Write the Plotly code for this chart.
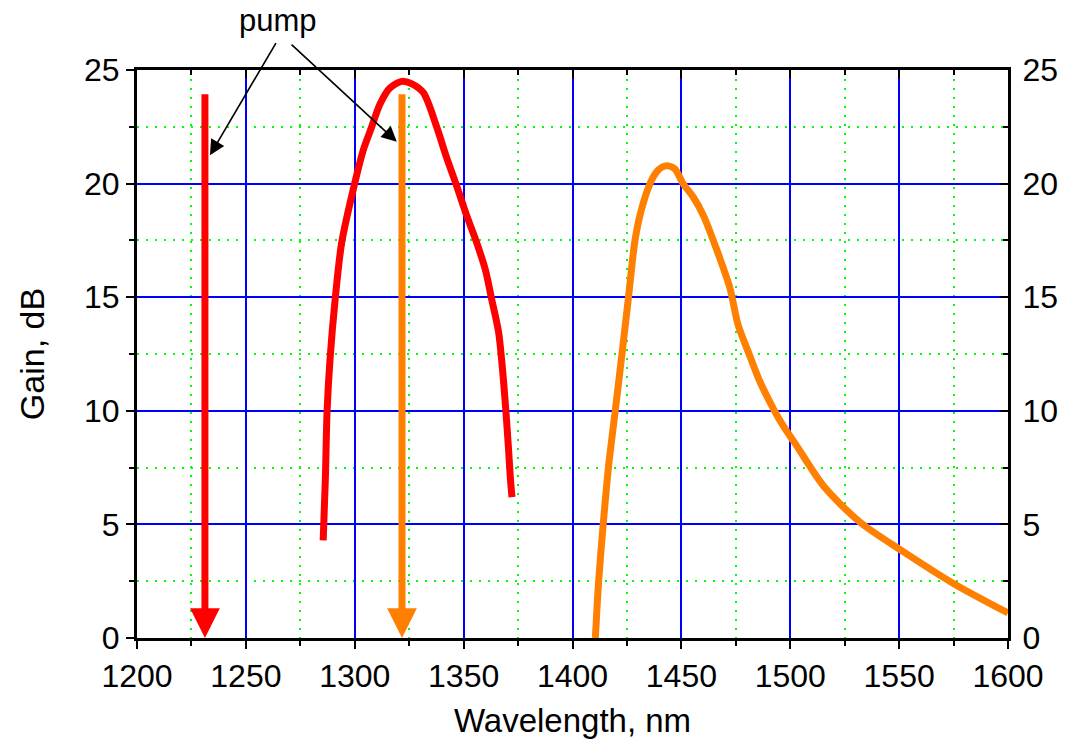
import plotly.graph_objects as go

# ---- data ----
red_wl = [1285.5, 1286.5, 1287.3, 1288.6, 1291.0, 1294.0, 1299.7, 1304.0, 1307.8, 1311.6,
          1316.0, 1321.5, 1326.0, 1331.5, 1337.6, 1342.0, 1346.8, 1351.0, 1356.0, 1360.0,
          1362.9, 1366.0, 1367.5, 1369.0, 1370.5, 1371.5, 1372.2]
red_gain = [4.3, 7.0, 10.0, 12.2, 14.9, 17.4, 19.9, 21.5, 22.5, 23.5,
            24.2, 24.5, 24.4, 24.0, 22.5, 21.2, 19.9, 18.7, 17.4, 16.2,
            14.9, 13.5, 12.2, 10.5, 8.5, 7.0, 6.2]

orange_wl = [1410.5, 1412.0, 1414.1, 1416.5, 1419.5, 1422.6, 1425.6, 1428.7, 1431.5, 1435.6,
             1438.5, 1441.0, 1444.0, 1447.0, 1450.8, 1455.5, 1460.1, 1466.2, 1472.3, 1476.0,
             1481.5, 1486.0, 1492.2, 1497.0, 1502.0, 1515.2, 1532.0, 1551.9, 1574.9, 1600.0]
orange_gain = [0.0, 2.5, 5.0, 7.5, 9.9, 12.4, 14.9, 17.5, 18.8, 20.0,
               20.5, 20.72, 20.78, 20.65, 20.0, 19.4, 18.6, 17.1, 15.4, 13.8,
               12.4, 11.3, 10.1, 9.3, 8.6, 6.7, 5.1, 3.8, 2.4, 1.1]

pump_wl = [1231.2, 1321.7]
pump_colors = ["#FF0000", "#FF8000"]
pump_top = 24.0

pump_label = "pump"
pump_arrow_tails = [(1264.2, 26.25), (1270.3, 26.18)]
pump_arrow_tips = [(1233.5, 21.25), (1319.3, 21.84)]

x_range = [1200, 1600]
y_range = [0, 25]

FONT = "Arial, 'Liberation Sans', sans-serif"

fig = go.Figure()
fig.add_trace(go.Scatter(x=red_wl, y=red_gain, mode="lines",
                         line=dict(color="#FF0000", width=7, shape="spline", smoothing=0.8),
                         showlegend=False, hoverinfo="skip"))
fig.add_trace(go.Scatter(x=orange_wl, y=orange_gain, mode="lines",
                         line=dict(color="#FF8000", width=7, shape="spline", smoothing=0.8),
                         showlegend=False, hoverinfo="skip"))
# dummy trace for the mirrored axes
fig.add_trace(go.Scatter(x=[None], y=[None], xaxis="x2", yaxis="y2",
                         showlegend=False, hoverinfo="skip"))

annotations = []
for wl, col in zip(pump_wl, pump_colors):
    annotations.append(dict(x=wl, y=0, ax=wl, ay=pump_top, xref="x", yref="y",
                            axref="x", ayref="y", text="", showarrow=True,
                            arrowhead=2, arrowsize=0.85, arrowwidth=7,
                            arrowcolor=col, standoff=0))
for (tx, ty), (hx, hy) in zip(pump_arrow_tails, pump_arrow_tips):
    annotations.append(dict(x=hx, y=hy, ax=tx, ay=ty, xref="x", yref="y",
                            axref="x", ayref="y", text="", showarrow=True,
                            arrowhead=2, arrowsize=1.9, arrowwidth=1.6,
                            arrowcolor="black", standoff=0))
annotations.append(dict(x=0.162, y=1.088, xref="paper", yref="paper",
                        text=pump_label, showarrow=False,
                        font=dict(family=FONT, size=31, color="black"),
                        xanchor="center", yanchor="middle"))

tick_font = dict(family=FONT, size=32, color="black")

fig.update_layout(
    width=1070, height=745,
    margin=dict(l=137, r=62, t=70, b=107),
    paper_bgcolor="white", plot_bgcolor="white",
    showlegend=False,
    annotations=annotations,
    xaxis=dict(range=x_range, dtick=50, tick0=1200,
               showline=True, linecolor="black", linewidth=3,
               ticks="outside", ticklen=8, tickwidth=2, tickcolor="black",
               showgrid=True, gridcolor="#0000FF", gridwidth=1.5,
               zeroline=False, tickfont=tick_font,
               title=dict(text="Wavelength, nm", font=dict(family=FONT, size=33, color="black"),
                          standoff=16),
               minor=dict(dtick=25, ticks="outside", ticklen=5, tickwidth=2, tickcolor="black",
                          showgrid=True, gridcolor="#00FF00", gridwidth=1.5,
                          griddash="2px,7px")),
    yaxis=dict(range=y_range, dtick=5, tick0=0,
               showline=True, linecolor="black", linewidth=3,
               ticks="outside", ticklen=8, tickwidth=2, tickcolor="black",
               showgrid=True, gridcolor="#0000FF", gridwidth=1.5,
               zeroline=False, tickfont=tick_font,
               title=dict(text="Gain, dB", font=dict(family=FONT, size=34, color="black"),
                          standoff=30),
               minor=dict(dtick=2.5, ticks="outside", ticklen=5, tickwidth=2, tickcolor="black",
                          showgrid=True, gridcolor="#00FF00", gridwidth=1.5,
                          griddash="2px,7px")),
    xaxis2=dict(range=x_range, dtick=50, tick0=1200, overlaying="x", side="top", anchor="y",
                showline=True, linecolor="black", linewidth=3,
                ticks="inside", ticklen=8, tickwidth=2, tickcolor="black",
                showticklabels=False, showgrid=False, zeroline=False,
                minor=dict(dtick=25, ticks="inside", ticklen=5, tickwidth=2, tickcolor="black",
                           showgrid=False)),
    yaxis2=dict(range=y_range, dtick=5, tick0=0, overlaying="y", side="right", anchor="x",
                showline=True, linecolor="black", linewidth=3,
                ticks="inside", ticklen=8, tickwidth=2, tickcolor="black",
                showticklabels=True, tickfont=tick_font, ticklabelstandoff=5,
                showgrid=False, zeroline=False,
                minor=dict(dtick=2.5, ticks="inside", ticklen=5, tickwidth=2, tickcolor="black",
                           showgrid=False)),
)

fig.write_html("out.html")
